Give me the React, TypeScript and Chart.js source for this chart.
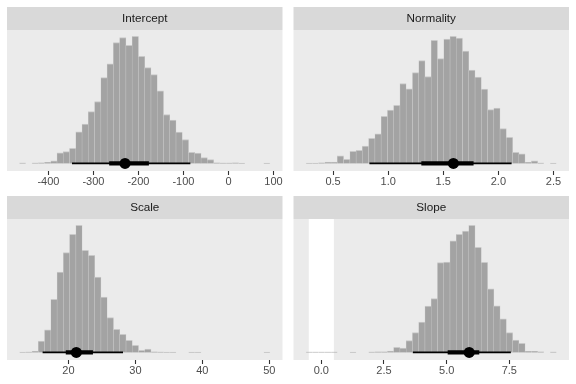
import React, { useEffect, useRef } from "react";
import { Chart, registerables } from "chart.js";

Chart.register(...registerables);

// ---------- DATA ----------
const interceptBins = [-457.4,-443.5,-429.6,-415.7,-401.7,-387.8,-373.9,-360.0,-346.1,-332.2,-318.3,-304.4,-290.4,-276.5,-262.6,-248.7,-234.8,-220.9,-207.0,-193.1,-179.1,-165.2,-151.3,-137.4,-123.5,-109.6,-95.7,-81.8,-67.8,-53.9,-40.0,-26.1,-12.2,1.7,15.6,29.5,43.4,57.4,71.3,85.2];
const interceptDensity = [0.003,0,0.003,0.005,0.008,0.021,0.084,0.092,0.118,0.249,0.309,0.408,0.487,0.675,0.783,0.950,0.990,0.929,1.0,0.843,0.754,0.699,0.571,0.385,0.340,0.246,0.188,0.086,0.081,0.045,0.029,0.005,0.003,0.003,0.005,0.002,0,0,0,0.002];
const interceptTicks = [-400, -300, -200, -100, 0, 100];
const interceptTickLabels = ["-400", "-300", "-200", "-100", "0", "100"];
const interceptPoint = -229.8;
const interceptInner = [-265, -176.8];
const interceptOuter = [-347.7, -84.7];

const normalityBins = [0.283,0.340,0.397,0.454,0.510,0.567,0.624,0.681,0.738,0.794,0.851,0.908,0.965,1.022,1.078,1.135,1.192,1.249,1.306,1.362,1.419,1.476,1.533,1.590,1.646,1.703,1.760,1.817,1.874,1.930,1.987,2.044,2.101,2.158,2.214,2.271,2.328,2.385,2.442,2.498];
const normalityDensity = [0.002,0.002,0.005,0.010,0.010,0.060,0.031,0.094,0.102,0.136,0.198,0.232,0.371,0.420,0.457,0.629,0.587,0.715,0.809,0.684,0.969,0.825,0.979,1.0,0.987,0.885,0.734,0.679,0.585,0.423,0.436,0.274,0.206,0.086,0.076,0.008,0.021,0.003,0,0.002];
const normalityTicks = [0.5, 1.0, 1.5, 2.0, 2.5];
const normalityTickLabels = ["0.5", "1.0", "1.5", "2.0", "2.5"];
const normalityPoint = 1.592;
const normalityInner = [1.301, 1.775];
const normalityOuter = [0.830, 2.120];

const scaleBins = [13.16,14.09,15.03,15.97,16.90,17.84,18.77,19.71,20.64,21.58,22.52,23.45,24.39,25.32,26.26,27.19,28.13,29.07,30.00,30.94,31.87,32.81,33.74,34.68,35.62,36.55,37.49,38.42,39.36,40.29,41.23,42.17,43.10,44.04,44.97,45.91,46.84,47.78,48.71,49.65];
const scaleDensity = [0.002,0.003,0.008,0.089,0.178,0.417,0.633,0.785,0.929,1.0,0.803,0.764,0.593,0.436,0.273,0.181,0.142,0.095,0.055,0.016,0.026,0.004,0.003,0.002,0.002,0,0,0.002,0.002,0,0,0,0,0,0,0,0,0,0,0.002];
const scaleTicks = [20, 30, 40, 50];
const scaleTickLabels = ["20", "30", "40", "50"];
const scalePoint = 21.18;
const scaleInner = [19.6, 23.66];
const scaleOuter = [16.14, 28.15];

const slopeBins = [-0.485,-0.235,0.014,0.264,0.514,0.763,1.013,1.263,1.513,1.762,2.012,2.262,2.511,2.761,3.011,3.260,3.510,3.760,4.009,4.259,4.509,4.758,5.008,5.258,5.508,5.757,6.007,6.257,6.506,6.756,7.006,7.255,7.505,7.755,8.004,8.254,8.504,8.753,9.003,9.253];
const slopeDensity = [0.003,0.003,0.003,0.003,0.003,0,0,0.002,0,0,0.003,0.004,0.004,0.010,0.039,0.034,0.092,0.155,0.239,0.365,0.423,0.706,0.711,0.879,0.929,0.955,1.0,0.827,0.709,0.501,0.367,0.265,0.155,0.097,0.071,0.008,0.008,0.004,0,0.003];
const slopeTicks = [0, 2.5, 5, 7.5];
const slopeTickLabels = ["0.0", "2.5", "5.0", "7.5"];
const slopePoint = 5.9;
const slopeInner = [5.04, 6.3];
const slopeOuter = [3.65, 7.56];
const slopeRope = [-0.5, 0.5];

const panelTitles = ["Intercept", "Normality", "Scale", "Slope"];
const xRanges = [[-492, 120], [0.141, 2.641], [10.82, 51.98], [-1.11, 9.88]];

// ---------- STYLE ----------
const FONT = '"Liberation Sans", Arial, Helvetica, sans-serif';
const PANEL_BG = "#EBEBEB";
const STRIP_BG = "#D9D9D9";
const BAR_FILL = "#A3A3A3";
const BAR_EDGE = "#C9C9C9";
const STRIP_H = 23;

type PanelDef = {
  title: string;
  bins: number[];
  density: number[];
  ticks: number[];
  tickLabels: string[];
  point: number;
  inner: number[];
  outer: number[];
  range: number[];
  rope?: number[];
  left: number;
  top: number;
  padding: { left: number; right: number; top: number; bottom: number };
};

const panels: PanelDef[] = [
  { title: panelTitles[0], bins: interceptBins, density: interceptDensity, ticks: interceptTicks, tickLabels: interceptTickLabels, point: interceptPoint, inner: interceptInner, outer: interceptOuter, range: xRanges[0], left: 0, top: 0, padding: { left: 7, right: 4, top: 30, bottom: 3 } },
  { title: panelTitles[1], bins: normalityBins, density: normalityDensity, ticks: normalityTicks, tickLabels: normalityTickLabels, point: normalityPoint, inner: normalityInner, outer: normalityOuter, range: xRanges[1], left: 288, top: 0, padding: { left: 4, right: 7, top: 30, bottom: 3 } },
  { title: panelTitles[2], bins: scaleBins, density: scaleDensity, ticks: scaleTicks, tickLabels: scaleTickLabels, point: scalePoint, inner: scaleInner, outer: scaleOuter, range: xRanges[2], left: 0, top: 192, padding: { left: 7, right: 4, top: 27, bottom: 6 } },
  { title: panelTitles[3], bins: slopeBins, density: slopeDensity, ticks: slopeTicks, tickLabels: slopeTickLabels, point: slopePoint, inner: slopeInner, outer: slopeOuter, range: xRanges[3], rope: slopeRope, left: 288, top: 192, padding: { left: 4, right: 7, top: 27, bottom: 6 } },
];

const facetPlugin = {
  id: "facet",
  beforeDraw(chart: any, _args: any, opts: any) {
    const { ctx, chartArea } = chart;
    const { left, right, top, bottom } = chartArea;
    ctx.save();
    ctx.fillStyle = PANEL_BG;
    ctx.fillRect(left, top, right - left, bottom - top);
    if (opts.rope) {
      const xs = chart.scales.x;
      const x0 = xs.getPixelForValue(opts.rope[0]);
      const x1 = xs.getPixelForValue(opts.rope[1]);
      ctx.fillStyle = "#FFFFFF";
      ctx.fillRect(x0, top, x1 - x0, bottom - top);
    }
    ctx.fillStyle = STRIP_BG;
    ctx.fillRect(left, top - STRIP_H, right - left, STRIP_H);
    ctx.fillStyle = "#1A1A1A";
    ctx.font = `11.7px ${FONT}`;
    ctx.textAlign = "center";
    ctx.textBaseline = "middle";
    ctx.fillText(opts.title, (left + right) / 2, top - STRIP_H / 2 + 0.5);
    ctx.restore();
  },
};

function Panel({ def }: { def: PanelDef }) {
  const ref = useRef<HTMLCanvasElement | null>(null);
  useEffect(() => {
    if (!ref.current) return;
    const bars = def.bins.map((x, i) => ({ x, y: def.density[i] }));
    const chart = new Chart(ref.current, {
      type: "bar",
      data: {
        datasets: [
          {
            type: "line",
            data: [{ x: def.point, y: 0 }],
            showLine: false,
            pointRadius: 5.5,
            pointBackgroundColor: "#000000",
            pointBorderWidth: 0,
            order: 0,
          } as any,
          {
            type: "line",
            data: [{ x: def.inner[0], y: 0 }, { x: def.inner[1], y: 0 }],
            borderColor: "#000000",
            borderWidth: 4.3,
            pointRadius: 0,
            order: 1,
          } as any,
          {
            type: "line",
            data: [{ x: def.outer[0], y: 0 }, { x: def.outer[1], y: 0 }],
            borderColor: "#000000",
            borderWidth: 1.9,
            pointRadius: 0,
            order: 2,
          } as any,
          {
            type: "bar",
            data: bars,
            backgroundColor: BAR_FILL,
            borderColor: BAR_EDGE,
            borderWidth: { top: 1, left: 0.5, right: 0.5, bottom: 0 },
            borderSkipped: "start",
            barPercentage: 1,
            categoryPercentage: 1,
            order: 3,
          } as any,
        ],
      },
      options: {
        responsive: false,
        animation: false,
        events: [],
        layout: { padding: def.padding },
        plugins: {
          legend: { display: false },
          tooltip: { enabled: false },
          facet: { title: def.title, rope: def.rope },
        } as any,
        scales: {
          x: {
            type: "linear",
            min: def.range[0],
            max: def.range[1],
            offset: false,
            border: { display: false },
            grid: {
              display: true,
              offset: false,
              drawOnChartArea: false,
              drawTicks: true,
              tickLength: 4,
              tickColor: "#333333",
              tickWidth: 1.1,
            },
            ticks: {
              autoSkip: false,
              maxRotation: 0,
              padding: 0.5,
              color: "#4D4D4D",
              font: { family: FONT, size: 11 },
              callback: (v: any) => {
                const i = def.ticks.findIndex((t) => Math.abs(t - Number(v)) < 1e-9);
                return i >= 0 ? def.tickLabels[i] : "";
              },
            },
            afterBuildTicks: (scale: any) => {
              scale.ticks = def.ticks.map((value) => ({ value }));
            },
            afterFit: (scale: any) => {
              scale.height = 18;
            },
          },
          y: {
            type: "linear",
            display: false,
            min: -0.06,
            max: 1.05,
          },
        },
      } as any,
      plugins: [facetPlugin],
    });
    return () => chart.destroy();
  }, [def]);
  return (
    <canvas
      ref={ref}
      width={288}
      height={192}
      style={{ position: "absolute", left: def.left, top: def.top, width: 288, height: 192 }}
    />
  );
}

export default function App() {
  return (
    <div style={{ position: "fixed", left: 0, top: 0, width: 576, height: 384, background: "#FFFFFF" }}>
      {panels.map((p) => (
        <Panel key={p.title} def={p} />
      ))}
    </div>
  );
}
